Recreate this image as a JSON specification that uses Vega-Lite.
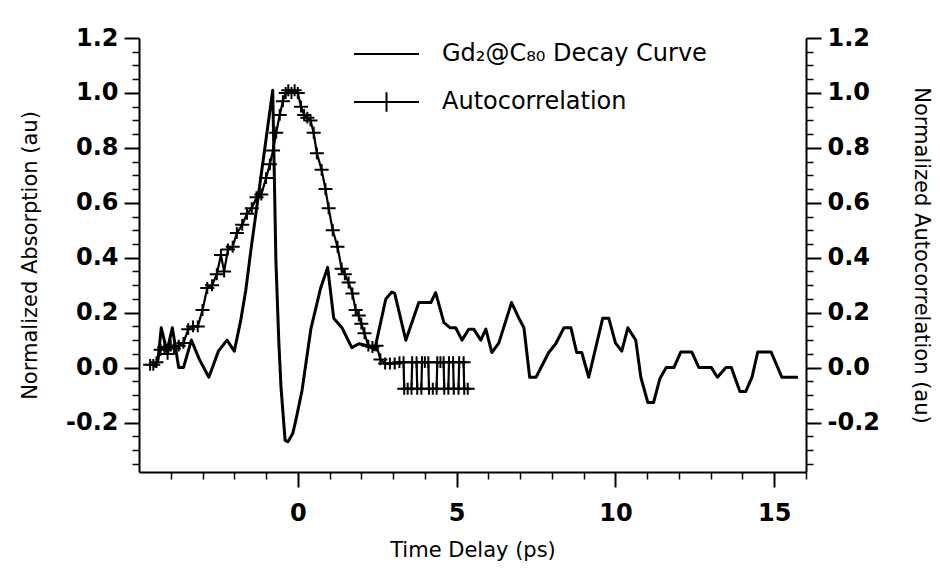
{
  "$schema": "https://vega.github.io/schema/vega-lite/v6.json",
  "autosize": "none",
  "width": 667,
  "height": 434,
  "padding": {"left": 139, "top": 38, "right": 134, "bottom": 99},
  "background": "white",
  "config": {
    "view": {"stroke": null},
    "axis": {"grid": false, "domainColor": "black", "tickColor": "black", "labelColor": "black", "titleColor": "black", "labelFont": "DejaVu Sans", "titleFont": "DejaVu Sans", "titleFontWeight": "normal"}
  },
  "data": {"values": [
    {"series": "Gd₂@C₈₀ Decay Curve", "time": -4.5, "value": 0.0},
    {"series": "Gd₂@C₈₀ Decay Curve", "time": -4.4, "value": 0.03},
    {"series": "Gd₂@C₈₀ Decay Curve", "time": -4.3, "value": 0.145},
    {"series": "Gd₂@C₈₀ Decay Curve", "time": -4.12, "value": 0.06},
    {"series": "Gd₂@C₈₀ Decay Curve", "time": -3.95, "value": 0.145},
    {"series": "Gd₂@C₈₀ Decay Curve", "time": -3.75, "value": 0.0},
    {"series": "Gd₂@C₈₀ Decay Curve", "time": -3.6, "value": 0.0},
    {"series": "Gd₂@C₈₀ Decay Curve", "time": -3.35, "value": 0.1},
    {"series": "Gd₂@C₈₀ Decay Curve", "time": -3.1, "value": 0.03},
    {"series": "Gd₂@C₈₀ Decay Curve", "time": -2.8, "value": -0.035},
    {"series": "Gd₂@C₈₀ Decay Curve", "time": -2.5, "value": 0.06},
    {"series": "Gd₂@C₈₀ Decay Curve", "time": -2.23, "value": 0.1},
    {"series": "Gd₂@C₈₀ Decay Curve", "time": -2.0, "value": 0.06},
    {"series": "Gd₂@C₈₀ Decay Curve", "time": -1.8, "value": 0.17},
    {"series": "Gd₂@C₈₀ Decay Curve", "time": -1.64, "value": 0.28},
    {"series": "Gd₂@C₈₀ Decay Curve", "time": -1.48, "value": 0.425},
    {"series": "Gd₂@C₈₀ Decay Curve", "time": -0.79, "value": 1.01},
    {"series": "Gd₂@C₈₀ Decay Curve", "time": -0.69, "value": 0.39},
    {"series": "Gd₂@C₈₀ Decay Curve", "time": -0.6, "value": 0.1},
    {"series": "Gd₂@C₈₀ Decay Curve", "time": -0.53, "value": -0.07},
    {"series": "Gd₂@C₈₀ Decay Curve", "time": -0.4, "value": -0.265},
    {"series": "Gd₂@C₈₀ Decay Curve", "time": -0.31, "value": -0.27},
    {"series": "Gd₂@C₈₀ Decay Curve", "time": -0.16, "value": -0.24},
    {"series": "Gd₂@C₈₀ Decay Curve", "time": -0.06, "value": -0.19},
    {"series": "Gd₂@C₈₀ Decay Curve", "time": 0.13, "value": -0.085},
    {"series": "Gd₂@C₈₀ Decay Curve", "time": 0.41, "value": 0.14},
    {"series": "Gd₂@C₈₀ Decay Curve", "time": 0.72, "value": 0.29},
    {"series": "Gd₂@C₈₀ Decay Curve", "time": 0.94, "value": 0.365},
    {"series": "Gd₂@C₈₀ Decay Curve", "time": 1.13, "value": 0.18},
    {"series": "Gd₂@C₈₀ Decay Curve", "time": 1.39, "value": 0.145},
    {"series": "Gd₂@C₈₀ Decay Curve", "time": 1.7, "value": 0.073},
    {"series": "Gd₂@C₈₀ Decay Curve", "time": 1.92, "value": 0.087},
    {"series": "Gd₂@C₈₀ Decay Curve", "time": 2.2, "value": 0.08},
    {"series": "Gd₂@C₈₀ Decay Curve", "time": 2.42, "value": 0.065},
    {"series": "Gd₂@C₈₀ Decay Curve", "time": 2.77, "value": 0.25},
    {"series": "Gd₂@C₈₀ Decay Curve", "time": 2.96, "value": 0.275},
    {"series": "Gd₂@C₈₀ Decay Curve", "time": 3.05, "value": 0.27},
    {"series": "Gd₂@C₈₀ Decay Curve", "time": 3.4, "value": 0.1},
    {"series": "Gd₂@C₈₀ Decay Curve", "time": 3.81, "value": 0.237},
    {"series": "Gd₂@C₈₀ Decay Curve", "time": 4.19, "value": 0.237},
    {"series": "Gd₂@C₈₀ Decay Curve", "time": 4.34, "value": 0.273},
    {"series": "Gd₂@C₈₀ Decay Curve", "time": 4.6, "value": 0.164},
    {"series": "Gd₂@C₈₀ Decay Curve", "time": 4.8, "value": 0.145},
    {"series": "Gd₂@C₈₀ Decay Curve", "time": 4.97, "value": 0.145},
    {"series": "Gd₂@C₈₀ Decay Curve", "time": 5.17, "value": 0.1},
    {"series": "Gd₂@C₈₀ Decay Curve", "time": 5.38, "value": 0.14},
    {"series": "Gd₂@C₈₀ Decay Curve", "time": 5.54, "value": 0.14},
    {"series": "Gd₂@C₈₀ Decay Curve", "time": 5.76, "value": 0.1},
    {"series": "Gd₂@C₈₀ Decay Curve", "time": 5.92, "value": 0.14},
    {"series": "Gd₂@C₈₀ Decay Curve", "time": 6.11, "value": 0.055},
    {"series": "Gd₂@C₈₀ Decay Curve", "time": 6.33, "value": 0.09},
    {"series": "Gd₂@C₈₀ Decay Curve", "time": 6.73, "value": 0.237},
    {"series": "Gd₂@C₈₀ Decay Curve", "time": 6.96, "value": 0.18},
    {"series": "Gd₂@C₈₀ Decay Curve", "time": 7.12, "value": 0.145},
    {"series": "Gd₂@C₈₀ Decay Curve", "time": 7.3, "value": -0.035},
    {"series": "Gd₂@C₈₀ Decay Curve", "time": 7.5, "value": -0.035},
    {"series": "Gd₂@C₈₀ Decay Curve", "time": 7.9, "value": 0.055},
    {"series": "Gd₂@C₈₀ Decay Curve", "time": 8.12, "value": 0.087},
    {"series": "Gd₂@C₈₀ Decay Curve", "time": 8.38, "value": 0.145},
    {"series": "Gd₂@C₈₀ Decay Curve", "time": 8.6, "value": 0.145},
    {"series": "Gd₂@C₈₀ Decay Curve", "time": 8.78, "value": 0.055},
    {"series": "Gd₂@C₈₀ Decay Curve", "time": 8.94, "value": 0.055},
    {"series": "Gd₂@C₈₀ Decay Curve", "time": 9.16, "value": -0.035},
    {"series": "Gd₂@C₈₀ Decay Curve", "time": 9.6, "value": 0.18},
    {"series": "Gd₂@C₈₀ Decay Curve", "time": 9.79, "value": 0.18},
    {"series": "Gd₂@C₈₀ Decay Curve", "time": 10.0, "value": 0.09},
    {"series": "Gd₂@C₈₀ Decay Curve", "time": 10.2, "value": 0.06},
    {"series": "Gd₂@C₈₀ Decay Curve", "time": 10.39, "value": 0.145},
    {"series": "Gd₂@C₈₀ Decay Curve", "time": 10.64, "value": 0.1},
    {"series": "Gd₂@C₈₀ Decay Curve", "time": 10.8, "value": -0.035},
    {"series": "Gd₂@C₈₀ Decay Curve", "time": 11.02, "value": -0.127},
    {"series": "Gd₂@C₈₀ Decay Curve", "time": 11.2, "value": -0.127},
    {"series": "Gd₂@C₈₀ Decay Curve", "time": 11.4, "value": -0.04},
    {"series": "Gd₂@C₈₀ Decay Curve", "time": 11.6, "value": 0.0},
    {"series": "Gd₂@C₈₀ Decay Curve", "time": 11.84, "value": 0.0},
    {"series": "Gd₂@C₈₀ Decay Curve", "time": 12.06, "value": 0.057},
    {"series": "Gd₂@C₈₀ Decay Curve", "time": 12.4, "value": 0.057},
    {"series": "Gd₂@C₈₀ Decay Curve", "time": 12.63, "value": 0.0},
    {"series": "Gd₂@C₈₀ Decay Curve", "time": 13.02, "value": 0.0},
    {"series": "Gd₂@C₈₀ Decay Curve", "time": 13.21, "value": -0.035},
    {"series": "Gd₂@C₈₀ Decay Curve", "time": 13.48, "value": 0.0},
    {"series": "Gd₂@C₈₀ Decay Curve", "time": 13.65, "value": 0.0},
    {"series": "Gd₂@C₈₀ Decay Curve", "time": 13.92, "value": -0.087},
    {"series": "Gd₂@C₈₀ Decay Curve", "time": 14.1, "value": -0.087},
    {"series": "Gd₂@C₈₀ Decay Curve", "time": 14.3, "value": -0.035},
    {"series": "Gd₂@C₈₀ Decay Curve", "time": 14.48, "value": 0.057},
    {"series": "Gd₂@C₈₀ Decay Curve", "time": 14.9, "value": 0.057},
    {"series": "Gd₂@C₈₀ Decay Curve", "time": 15.24, "value": -0.035},
    {"series": "Gd₂@C₈₀ Decay Curve", "time": 15.75, "value": -0.035},
    {"series": "Autocorrelation", "time": -4.65, "value": 0.01},
    {"series": "Autocorrelation", "time": -4.55, "value": 0.01},
    {"series": "Autocorrelation", "time": -4.45, "value": 0.02},
    {"series": "Autocorrelation", "time": -4.32, "value": 0.065},
    {"series": "Autocorrelation", "time": -4.2, "value": 0.075},
    {"series": "Autocorrelation", "time": -4.1, "value": 0.05},
    {"series": "Autocorrelation", "time": -4.0, "value": 0.08},
    {"series": "Autocorrelation", "time": -3.9, "value": 0.07},
    {"series": "Autocorrelation", "time": -3.75, "value": 0.08},
    {"series": "Autocorrelation", "time": -3.6, "value": 0.09},
    {"series": "Autocorrelation", "time": -3.45, "value": 0.14},
    {"series": "Autocorrelation", "time": -3.3, "value": 0.15},
    {"series": "Autocorrelation", "time": -3.15, "value": 0.15},
    {"series": "Autocorrelation", "time": -3.0, "value": 0.21},
    {"series": "Autocorrelation", "time": -2.85, "value": 0.29},
    {"series": "Autocorrelation", "time": -2.7, "value": 0.3},
    {"series": "Autocorrelation", "time": -2.55, "value": 0.34},
    {"series": "Autocorrelation", "time": -2.42, "value": 0.41},
    {"series": "Autocorrelation", "time": -2.32, "value": 0.35},
    {"series": "Autocorrelation", "time": -2.2, "value": 0.43},
    {"series": "Autocorrelation", "time": -2.05, "value": 0.44},
    {"series": "Autocorrelation", "time": -1.92, "value": 0.49},
    {"series": "Autocorrelation", "time": -1.75, "value": 0.52},
    {"series": "Autocorrelation", "time": -1.6, "value": 0.56},
    {"series": "Autocorrelation", "time": -1.45, "value": 0.58},
    {"series": "Autocorrelation", "time": -1.3, "value": 0.62},
    {"series": "Autocorrelation", "time": -1.15, "value": 0.63},
    {"series": "Autocorrelation", "time": -1.0, "value": 0.69},
    {"series": "Autocorrelation", "time": -0.88, "value": 0.74},
    {"series": "Autocorrelation", "time": -0.78, "value": 0.79},
    {"series": "Autocorrelation", "time": -0.68, "value": 0.855},
    {"series": "Autocorrelation", "time": -0.57, "value": 0.92},
    {"series": "Autocorrelation", "time": -0.47, "value": 0.97},
    {"series": "Autocorrelation", "time": -0.38, "value": 1.0},
    {"series": "Autocorrelation", "time": -0.3, "value": 1.01},
    {"series": "Autocorrelation", "time": -0.2, "value": 1.0},
    {"series": "Autocorrelation", "time": -0.1, "value": 1.01},
    {"series": "Autocorrelation", "time": 0.0, "value": 1.0},
    {"series": "Autocorrelation", "time": 0.1, "value": 0.95},
    {"series": "Autocorrelation", "time": 0.2, "value": 0.92},
    {"series": "Autocorrelation", "time": 0.3, "value": 0.91},
    {"series": "Autocorrelation", "time": 0.4, "value": 0.9},
    {"series": "Autocorrelation", "time": 0.5, "value": 0.855},
    {"series": "Autocorrelation", "time": 0.6, "value": 0.78},
    {"series": "Autocorrelation", "time": 0.75, "value": 0.72},
    {"series": "Autocorrelation", "time": 0.87, "value": 0.65},
    {"series": "Autocorrelation", "time": 0.97, "value": 0.58},
    {"series": "Autocorrelation", "time": 1.1, "value": 0.5},
    {"series": "Autocorrelation", "time": 1.25, "value": 0.44},
    {"series": "Autocorrelation", "time": 1.38, "value": 0.36},
    {"series": "Autocorrelation", "time": 1.48, "value": 0.34},
    {"series": "Autocorrelation", "time": 1.6, "value": 0.31},
    {"series": "Autocorrelation", "time": 1.72, "value": 0.27},
    {"series": "Autocorrelation", "time": 1.82, "value": 0.21},
    {"series": "Autocorrelation", "time": 1.92, "value": 0.19},
    {"series": "Autocorrelation", "time": 2.0, "value": 0.16},
    {"series": "Autocorrelation", "time": 2.1, "value": 0.125},
    {"series": "Autocorrelation", "time": 2.22, "value": 0.08},
    {"series": "Autocorrelation", "time": 2.35, "value": 0.075},
    {"series": "Autocorrelation", "time": 2.48, "value": 0.08},
    {"series": "Autocorrelation", "time": 2.6, "value": 0.03},
    {"series": "Autocorrelation", "time": 2.75, "value": 0.015},
    {"series": "Autocorrelation", "time": 2.9, "value": 0.015},
    {"series": "Autocorrelation", "time": 3.05, "value": 0.015},
    {"series": "Autocorrelation", "time": 3.2, "value": 0.02},
    {"series": "Autocorrelation", "time": 3.33, "value": 0.02},
    {"series": "Autocorrelation", "time": 3.35, "value": -0.077},
    {"series": "Autocorrelation", "time": 3.46, "value": -0.077},
    {"series": "Autocorrelation", "time": 3.58, "value": -0.077},
    {"series": "Autocorrelation", "time": 3.6, "value": 0.02},
    {"series": "Autocorrelation", "time": 3.74, "value": 0.02},
    {"series": "Autocorrelation", "time": 3.76, "value": -0.077},
    {"series": "Autocorrelation", "time": 3.89, "value": -0.077},
    {"series": "Autocorrelation", "time": 3.91, "value": 0.02},
    {"series": "Autocorrelation", "time": 4.0, "value": 0.02},
    {"series": "Autocorrelation", "time": 4.11, "value": 0.02},
    {"series": "Autocorrelation", "time": 4.13, "value": -0.077},
    {"series": "Autocorrelation", "time": 4.25, "value": -0.077},
    {"series": "Autocorrelation", "time": 4.37, "value": -0.077},
    {"series": "Autocorrelation", "time": 4.39, "value": 0.02},
    {"series": "Autocorrelation", "time": 4.49, "value": 0.02},
    {"series": "Autocorrelation", "time": 4.59, "value": 0.02},
    {"series": "Autocorrelation", "time": 4.61, "value": -0.077},
    {"series": "Autocorrelation", "time": 4.74, "value": -0.077},
    {"series": "Autocorrelation", "time": 4.76, "value": 0.02},
    {"series": "Autocorrelation", "time": 4.89, "value": 0.02},
    {"series": "Autocorrelation", "time": 4.91, "value": -0.077},
    {"series": "Autocorrelation", "time": 5.06, "value": -0.077},
    {"series": "Autocorrelation", "time": 5.08, "value": 0.02},
    {"series": "Autocorrelation", "time": 5.22, "value": 0.02},
    {"series": "Autocorrelation", "time": 5.24, "value": -0.077},
    {"series": "Autocorrelation", "time": 5.35, "value": -0.077}
  ]},
  "resolve": {"scale": {"x": "shared", "y": "shared"}, "axis": {"x": "independent", "y": "independent"}},
  "layer": [
    {
      "transform": [{"filter": "datum.series !== 'Autocorrelation'"}],
      "mark": {"type": "line", "color": "black", "strokeWidth": 3, "strokeJoin": "round"},
      "encoding": {
        "x": {"field": "time", "type": "quantitative", "scale": {"domain": [-5, 16], "nice": false, "zero": false},
          "axis": {"orient": "bottom", "values": [0, 5, 10, 15], "title": "Time Delay (ps)", "tickSize": 15, "tickWidth": 2, "domainWidth": 2, "labelFontSize": 24, "labelFontWeight": "bold", "labelPadding": 14, "titleFontSize": 21, "titlePadding": 14}},
        "y": {"field": "value", "type": "quantitative", "scale": {"domain": [-0.38, 1.2], "nice": false, "zero": false},
          "axis": {"orient": "left", "values": [-0.2, 0, 0.2, 0.4, 0.6, 0.8, 1.0, 1.2], "labelExpr": "datum.value < 0 ? '-' + format(-datum.value, '.1f') : format(datum.value, '.1f')", "title": "Normalized Absorption (au)", "tickSize": 15, "tickWidth": 2, "domainWidth": 2, "labelFontSize": 24, "labelFontWeight": "bold", "labelPadding": 6, "titleFontSize": 21, "titlePadding": 25}}
      }
    },
    {
      "transform": [{"filter": "datum.series === 'Autocorrelation'"}],
      "mark": {"type": "line", "color": "black", "strokeWidth": 2.2, "strokeJoin": "round"},
      "encoding": {
        "x": {"field": "time", "type": "quantitative",
          "axis": {"orient": "bottom", "values": [-4, -3, -2, -1, 1, 2, 3, 4, 6, 7, 8, 9, 11, 12, 13, 14, 16], "labels": false, "domain": false, "title": null, "tickSize": 7, "tickWidth": 1.5}},
        "y": {"field": "value", "type": "quantitative",
          "axis": {"orient": "left", "values": [-0.35, -0.3, -0.25, -0.15, -0.1, -0.05, 0.05, 0.1, 0.15, 0.25, 0.3, 0.35, 0.45, 0.5, 0.55, 0.65, 0.7, 0.75, 0.85, 0.9, 0.95, 1.05, 1.1, 1.15], "labels": false, "domain": false, "title": null, "tickSize": 7, "tickWidth": 1.5}}
      }
    },
    {
      "transform": [{"filter": "datum.series === 'Autocorrelation'"}],
      "mark": {"type": "point", "shape": "M-1,0H1M0,-0.85V0.85", "filled": false, "color": "black", "strokeWidth": 2, "size": 196, "opacity": 1},
      "encoding": {
        "x": {"field": "time", "type": "quantitative", "axis": null},
        "y": {"field": "value", "type": "quantitative",
          "axis": {"orient": "right", "values": [-0.2, 0, 0.2, 0.4, 0.6, 0.8, 1.0, 1.2], "labelExpr": "datum.value < 0 ? '-' + format(-datum.value, '.1f') : format(datum.value, '.1f')", "title": "Normalized Autocorrelation (au)", "tickSize": 15, "tickWidth": 2, "domainWidth": 2, "labelFontSize": 24, "labelFontWeight": "bold", "labelPadding": 6, "titleFontSize": 21, "titlePadding": 31}}
      }
    },
    {
      "transform": [{"filter": "datum.series !== 'Autocorrelation'"}],
      "mark": {"type": "point", "filled": false, "color": "black", "opacity": 0},
      "encoding": {
        "x": {"field": "time", "type": "quantitative", "axis": null},
        "y": {"field": "value", "type": "quantitative",
          "axis": {"orient": "right", "values": [-0.35, -0.3, -0.25, -0.15, -0.1, -0.05, 0.05, 0.1, 0.15, 0.25, 0.3, 0.35, 0.45, 0.5, 0.55, 0.65, 0.7, 0.75, 0.85, 0.9, 0.95, 1.05, 1.1, 1.15], "labels": false, "domain": false, "title": null, "tickSize": 7, "tickWidth": 1.5}},
        "shape": {"field": "series", "type": "nominal",
          "scale": {"domain": ["Gd₂@C₈₀ Decay Curve", "Autocorrelation"], "range": ["M-1,0H1", "M-1,0H1M0,-0.3V0.3"]},
          "legend": {"orient": "none", "legendX": 214, "legendY": -7, "title": null, "padding": 0,
            "symbolSize": 4225, "symbolStrokeWidth": 2, "symbolStrokeColor": "black", "symbolOpacity": 1, "clipHeight": 46, "rowPadding": 2,
            "labelOffset": 22, "labelFont": "DejaVu Sans", "labelFontSize": 24, "labelColor": "black", "labelLimit": 600}}
      }
    }
  ]
}
